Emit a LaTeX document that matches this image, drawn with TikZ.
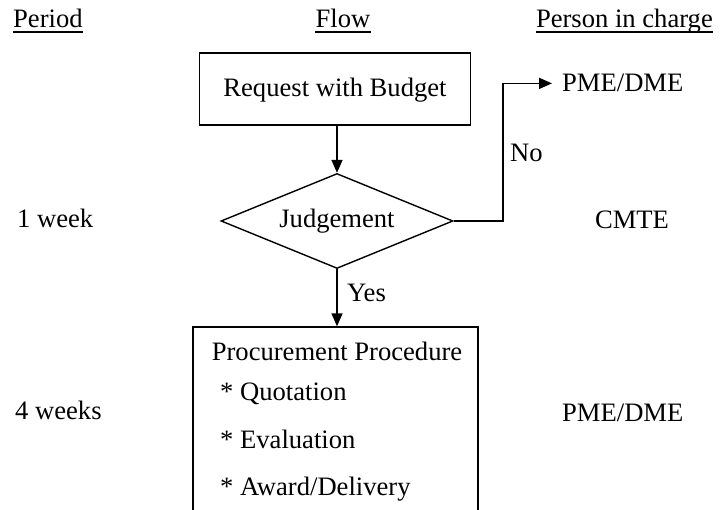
\documentclass[tikz,border=0pt]{standalone}
\usepackage{fontspec}
\setmainfont{Liberation Serif}
\usetikzlibrary{arrows.meta,shapes.geometric}

\tikzset{
  txt/.style={inner sep=0pt, font=\fontsize{26.6pt}{31pt}\selectfont},
  boxline/.style={draw, line width=1.4pt, inner sep=0pt},
  conn/.style={line width=1.6pt, -{Triangle[length=13pt,width=11pt]}},
  uline/.style={line width=1.6pt},
}

\begin{document}
\begin{tikzpicture}[x=1pt,y=-1pt]
  % page frame; the procedure box runs off the lower edge
  \clip (0,0) rectangle (720,510);
  \fill[white] (0,0) rectangle (720,510);

  % column headings
  \node[txt, anchor=base west] (hperiod) at (13,28) {Period};
  \node[txt, anchor=base] (hflow) at (343,28) {Flow};
  \node[txt, anchor=base east] (hperson) at (713,28) {Person in charge};
  \foreach \h in {hperiod,hflow,hperson}
    \draw[uline] ([yshift=-4pt]\h.base west) -- ([yshift=-4pt]\h.base east);

  % flow shapes
  \node[boxline, minimum width=271pt, minimum height=72pt] (req) at (335,89) {};
  \node[txt, anchor=base] (reqtxt) at (335,97) {Request with Budget};

  \node[boxline, diamond, minimum width=232pt, minimum height=95pt] (judge) at (337,221) {};
  \node[txt, anchor=base] (judgetxt) at (337,228) {Judgement};

  \node[boxline, minimum width=285pt, minimum height=240pt] (proc) at (335.5,447) {};
  \node[txt, anchor=base] (proctxt) at (337,360) {Procurement Procedure};
  \node[txt, anchor=base west] (q1) at (220,400) {* Quotation};
  \node[txt, anchor=base west] (q2) at (220,448) {* Evaluation};
  \node[txt, anchor=base west] (q3) at (220,495) {* Award/Delivery};

  % period column
  \node[txt, anchor=base west] (p1) at (17,228) {1 week};
  \node[txt, anchor=base west] (p2) at (15,419) {4 weeks};

  % person column
  \node[txt, anchor=base west] (pme1) at (562,92) {PME/DME};
  \node[txt, anchor=base] (cmte) at (632,229) {CMTE};
  \node[txt, anchor=base west] (pme2) at (562,421) {PME/DME};

  % connectors
  \draw[conn] (req.south -| judge.north) -- (judge.north);
  \coordinate (nobend) at (503,221);
  \draw[conn, shorten >=10pt] (judge.east) -- (nobend) |- (pme1.west);
  \node[txt, anchor=base west] (nolbl) at (510,162) {No};
  \draw[conn] (judge.south) -- (judge.south |- proc.north);
  \node[txt, anchor=base west] (yeslbl) at (347,302) {Yes};
\end{tikzpicture}
\end{document}
